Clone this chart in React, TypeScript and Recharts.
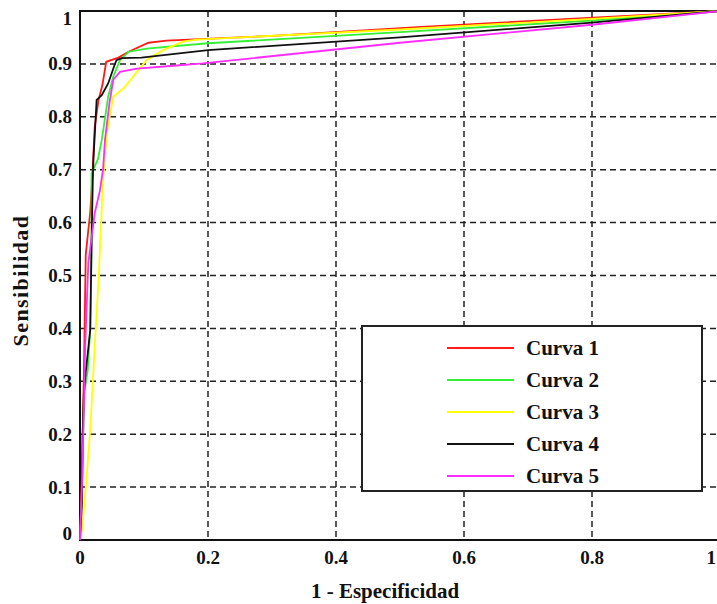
import {
  LineChart,
  Line,
  XAxis,
  YAxis,
  CartesianGrid,
  ReferenceArea,
  Legend,
} from 'recharts';

// ROC curves: false positive rate (1 - especificidad) vs sensibilidad
const FPR_1 = [0, 0.003, 0.006, 0.009, 0.016, 0.019, 0.023, 0.029, 0.035, 0.041, 0.06, 0.076, 0.107, 0.135, 0.3, 0.534, 0.78, 1];
const TPR_1 = [0, 0.12, 0.31, 0.54, 0.62, 0.68, 0.781, 0.832, 0.86, 0.904, 0.912, 0.923, 0.94, 0.944, 0.953, 0.97, 0.986, 1];

const FPR_2 = [0, 0.003, 0.005, 0.007, 0.012, 0.016, 0.018, 0.018, 0.028, 0.034, 0.044, 0.052, 0.0625, 0.076, 0.104, 0.2, 0.5, 0.8, 1];
const TPR_2 = [0, 0.08, 0.2, 0.28, 0.32, 0.4, 0.55, 0.693, 0.72, 0.756, 0.838, 0.876, 0.907, 0.923, 0.929, 0.939, 0.96, 0.982, 1];

const FPR_3 = [0, 0.003, 0.008, 0.016, 0.023, 0.029, 0.036, 0.042, 0.052, 0.07, 0.089, 0.104, 0.13, 0.161, 0.182, 0.5, 0.8, 1];
const TPR_3 = [0, 0.019, 0.082, 0.208, 0.365, 0.491, 0.681, 0.769, 0.838, 0.856, 0.885, 0.907, 0.926, 0.942, 0.946, 0.965, 0.985, 1];

const FPR_4 = [0, 0.003, 0.004, 0.006, 0.009, 0.016, 0.018, 0.02, 0.021, 0.026, 0.034, 0.044, 0.054, 0.057, 0.065, 0.096, 0.2, 0.5, 0.8, 1];
const TPR_4 = [0, 0.07, 0.195, 0.278, 0.318, 0.397, 0.555, 0.681, 0.72, 0.832, 0.841, 0.863, 0.898, 0.907, 0.911, 0.912, 0.926, 0.95, 0.978, 1];

const FPR_5 = [0, 0.003, 0.006, 0.008, 0.013, 0.023, 0.031, 0.036, 0.039, 0.046, 0.052, 0.0625, 0.089, 0.141, 0.192, 0.5, 0.8, 1];
const TPR_5 = [0, 0.1, 0.25, 0.365, 0.523, 0.618, 0.66, 0.7, 0.756, 0.826, 0.87, 0.885, 0.891, 0.896, 0.901, 0.94, 0.974, 1];

const X_TICKS = [0, 0.2, 0.4, 0.6, 0.8, 1];
const Y_TICKS = [0, 0.1, 0.2, 0.3, 0.4, 0.5, 0.6, 0.7, 0.8, 0.9, 1];

const zip = (xs: number[], ys: number[]) => xs.map((x, i) => ({ x, y: ys[i] }));

const SERIES = [
  { name: 'Curva 1', color: '#ff1a1a', data: zip(FPR_1, TPR_1) },
  { name: 'Curva 2', color: '#33f033', data: zip(FPR_2, TPR_2) },
  { name: 'Curva 3', color: '#ffff00', data: zip(FPR_3, TPR_3) },
  { name: 'Curva 4', color: '#111111', data: zip(FPR_4, TPR_4) },
  { name: 'Curva 5', color: '#ff2cff', data: zip(FPR_5, TPR_5) },
];

const FONT = '"Liberation Serif", "Times New Roman", serif';
const fmt = (v: number) => String(Number(v.toFixed(1)));

const YTick = ({ x, y, payload }: any) => {
  const v = payload.value;
  const shift = v === 1 ? 7 : v === 0 ? -7 : 0;
  return (
    <text x={x} y={y + shift} textAnchor="end" dominantBaseline="central"
      fontFamily={FONT} fontWeight="bold" fontSize={19} fill="#111">
      {fmt(v)}
    </text>
  );
};

// the last x label sits at the window edge, keep it inside
const XTick = ({ x, y, payload }: any) => {
  const last = payload.value === 1;
  return (
    <text x={last ? Math.min(x + 5, 716) : x} y={y} dy="0.71em" textAnchor={last ? 'end' : 'middle'}
      fontFamily={FONT} fontWeight="bold" fontSize={19} fill="#111">
      {fmt(payload.value)}
    </text>
  );
};

const LegendBox = () => (
  <svg width={338} height={163} style={{ display: 'block' }}>
    {SERIES.map((s, i) => {
      const cy = 21 + i * 32;
      return (
        <g key={s.name}>
          <line x1={84} x2={151} y1={cy} y2={cy} stroke={s.color} strokeWidth={2} />
          <text x={163} y={cy} dominantBaseline="central" fontFamily={FONT}
            fontWeight="bold" fontSize={21} fill="#111">
            {s.name}
          </text>
        </g>
      );
    })}
  </svg>
);

export default function App() {
  return (
    <div style={{ position: 'fixed', left: 0, top: 0, width: 717, height: 604, overflow: 'hidden', background: '#fff' }}>
      <LineChart width={730} height={604} margin={{ top: 11, right: 10, left: 0, bottom: 0 }}>
        <CartesianGrid stroke="#222" strokeWidth={1.5} strokeDasharray="6 4" />
        <XAxis
          dataKey="x"
          type="number"
          domain={[0, 1]}
          ticks={X_TICKS}
          height={64}
          axisLine={false}
          tickLine={false}
          tickSize={0}
          tickMargin={11}
          tick={<XTick />}
          allowDuplicatedCategory={false}
          label={({ viewBox }: any) => (
            <text x={viewBox.x + viewBox.width / 2 - 15} y={viewBox.y + 58} textAnchor="middle"
              fontFamily={FONT} fontWeight="bold" fontSize={21} fill="#111">
              1 - Especificidad
            </text>
          )}
        />
        <YAxis
          type="number"
          domain={[0, 1]}
          ticks={Y_TICKS}
          width={80}
          axisLine={false}
          tickLine={false}
          tickSize={0}
          tickMargin={8}
          tick={<YTick />}
          label={({ viewBox }: any) => {
            const cx = viewBox.x + 20;
            const cy = viewBox.y + viewBox.height / 2 + 5;
            return (
              <text x={cx} y={cy} textAnchor="middle" dominantBaseline="central"
                transform={`rotate(-90 ${cx} ${cy})`} fontFamily={FONT} fontWeight="bold"
                fontSize={22} letterSpacing={1.4} fill="#111">
                Sensibilidad
              </text>
            );
          }}
        />
        <ReferenceArea x1={0} x2={1} y1={0} y2={1} fill="none" fillOpacity={0} stroke="#111" strokeWidth={2} />
        {SERIES.map((s) => (
          <Line
            key={s.name}
            data={s.data}
            dataKey="y"
            name={s.name}
            type="linear"
            stroke={s.color}
            strokeWidth={1.8}
            dot={false}
            activeDot={false}
            isAnimationActive={false}
          />
        ))}
        <Legend
          layout="vertical"
          align="center"
          verticalAlign="middle"
          content={() => <LegendBox />}
          wrapperStyle={{
            position: 'absolute',
            left: 361,
            top: 325,
            width: 342,
            height: 167,
            border: '2px solid #222',
            background: '#fff',
            boxSizing: 'border-box',
            margin: 0,
          }}
        />
      </LineChart>
    </div>
  );
}
